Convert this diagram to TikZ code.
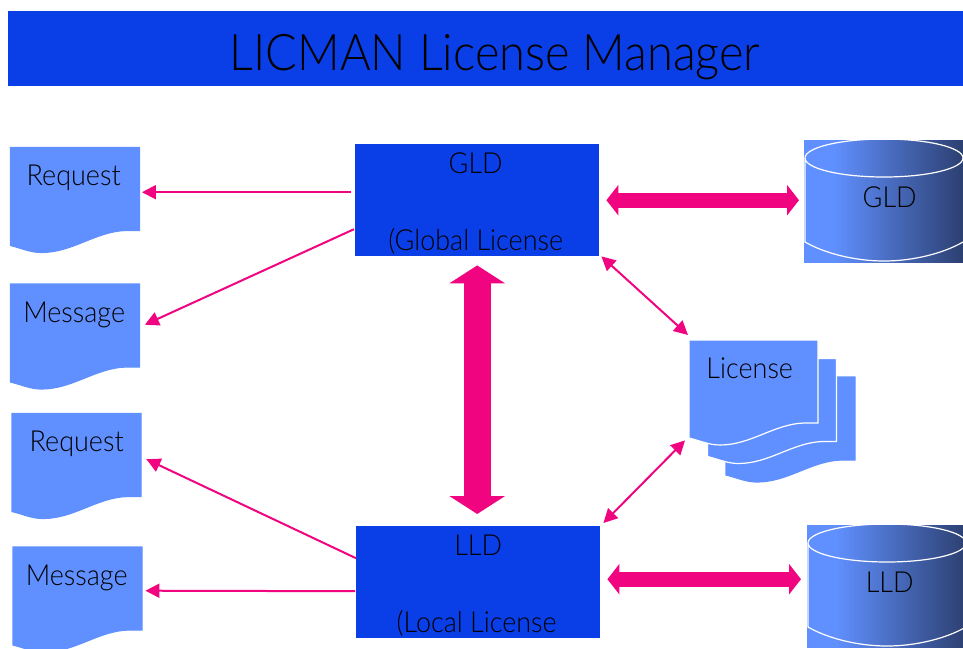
\documentclass[tikz,border=0pt]{standalone}
\usepackage{fontspec}
\setmainfont{Lato}[UprightFont=* Light,FakeStretch=0.93]
\usetikzlibrary{shapes,arrows,calc,arrows.meta}

\definecolor{bannerblue}{HTML}{0A3FE8}
\definecolor{sheetblue}{HTML}{6090FF}
\definecolor{storedark}{HTML}{2C3F70}
\definecolor{linkpink}{HTML}{F0047F}
\pgfdeclarehorizontalshading{storeshade}{100bp}{color(0bp)=(sheetblue); color(34bp)=(sheetblue); color(75bp)=(storedark); color(100bp)=(storedark)}

\tikzset{
  banner/.style={anchor=north west,fill=bannerblue,minimum width=955,minimum height=75,inner sep=0},
  titletext/.style={inner sep=0,font=\fontsize{50.5}{50}\selectfont},
  sheet/.style={anchor=north west,inner sep=0,minimum width=129,text height=38,text depth=67,font=\fontsize{29}{29}\selectfont},
  serverbox/.style={anchor=north west,fill=bannerblue,inner sep=0,minimum width=244,text height=106,text depth=6,align=center,font=\fontsize{29}{38.5}\selectfont},
  store/.style={anchor=north west,inner sep=0,minimum width=159,text height=67,text depth=55,shading=storeshade,font=\fontsize{29}{29}\selectfont},
  thinlink/.style={linkpink,line width=2,{Triangle[length=14,width=14]}-{Triangle[length=14,width=14]}},
  thinout/.style={linkpink,line width=2,-{Triangle[length=14,width=14]}},
  widelink/.style={linkpink,line width=15,{Triangle[length=12,width=30]}-{Triangle[length=12,width=30]}},
  hugelink/.style={linkpink,line width=27,{Triangle[length=18,width=55]}-{Triangle[length=18,width=55]}}
}

% name, position, outline colour, text
\newcommand{\sheetnode}[4]{
  \path[fill=sheetblue,draw=#3,line width=1.2,shift={(#2)}]
    (0,0) -- (129,0) -- (129,83) -- (115,83) .. controls (85,84) and (62,105) .. (31,105)
    .. controls (20,105) and (12,101) .. (0,98) -- cycle;
  \draw (#2) node[sheet] (#1) {#4};
}
% name, position, text
\newcommand{\storenode}[3]{
  \draw (#2) node[store] (#1) {#3};
  \draw[white,line width=1.2,shift={(#2)}] (80,18) ellipse[x radius=79,y radius=19]
    (1,18) -- (1,102) .. controls (20,113) and (50,121) .. (80,121) .. controls (110,121) and (140,113) .. (159,102);
}

\begin{document}
\begin{tikzpicture}[x=1pt,y=-1pt]
  \useasboundingbox (0,0) rectangle (963,648);
  \draw (8,11) node[banner] (banner) {};
  \draw (495,57.5) node[titletext] (title) {LICMAN License Manager};

  \draw (355,144) node[serverbox] (gld) {GLD\hspace*{3pt}\\ \\(Global License\hspace*{3pt}};
  \draw (356,526) node[serverbox] (lld) {LLD\\ \\(Local License\hspace*{3pt}};

  \sheetnode{request1}{10.5,147.5}{sheetblue}{Request\hspace*{3pt}}
  \sheetnode{message1}{10.5,284}{sheetblue}{Message\hspace*{2pt}}
  \sheetnode{request2}{12,413.5}{sheetblue}{Request}
  \sheetnode{message2}{13,547}{sheetblue}{Message\hspace*{2pt}}

  \sheetnode{license3}{726,377}{sheetblue}{}
  \sheetnode{license2}{707.5,358.5}{white}{}
  \sheetnode{license1}{689,340}{white}{License\hspace*{8pt}}

  \storenode{gldstore}{804,140}{\hspace*{12pt}GLD}
  \storenode{lldstore}{807,525}{\hspace*{6pt}LLD}

  \path[thinout] ([shift={(-4,-8)}]gld.west) edge ([shift={(2,-8)}]request1.east)
                 ([shift={(-1,29)}]gld.west) edge ([shift={(5,-12)}]message1.east)
                 ([shift={(0,-24)}]lld.west) edge ([shift={(5,-7)}]request2.east)
                 ([shift={(-1,9)}]lld.west) edge ([shift={(3,-9)}]message2.east);
  \path[thinlink] ([shift={(2,0)}]gld.south east) edge ([shift={(-1,-5)}]license1.north west)
                  ([shift={(3,-3)}]lld.north east) edge ([shift={(-4,-5)}]license1.south west);
  \path[widelink] ([shift={(7,0)}]gld.east) edge ([shift={(-5,-1)}]gldstore.west)
                  ([shift={(7,-3)}]lld.east) edge ([shift={(-6,-7)}]lldstore.west);
  \path[hugelink] ([shift={(0,9)}]gld.south) edge ([shift={(-1,-12)}]lld.north);
\end{tikzpicture}
\end{document}
